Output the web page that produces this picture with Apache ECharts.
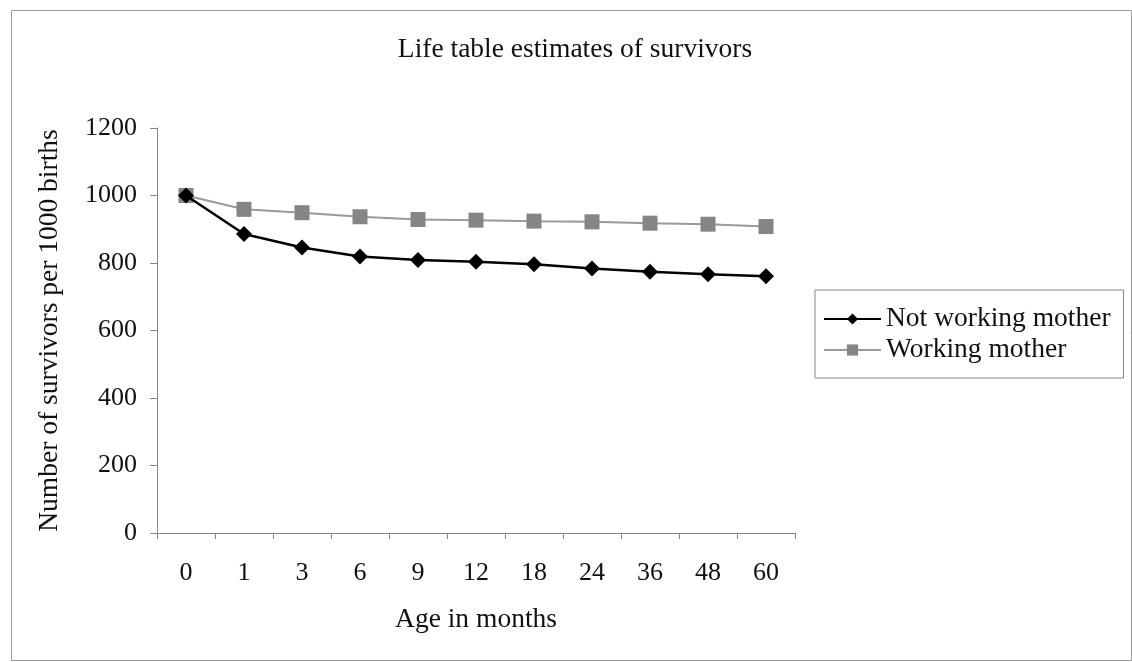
<!DOCTYPE html>
<html>
<head>
<meta charset="utf-8">
<script src="https://cdn.jsdelivr.net/npm/echarts@6/dist/echarts.min.js"></script>
<style>
html,body{margin:0;padding:0;background:#fff;}
#c{width:1132px;height:662px;}
</style>
</head>
<body>
<div id="c"></div>
<script>
const categories = ['0','1','3','6','9','12','18','24','36','48','60'];
const notWorking = [1000, 886, 846, 819, 809, 804, 796, 784, 774, 767, 761];
const working = [1000, 959, 949, 937, 929, 927, 924, 922, 918, 915, 908];
const yTicks = [0, 200, 400, 600, 800, 1000, 1200];

const FONT = '"Liberation Serif", "Times New Roman", serif';
const chart = echarts.init(document.getElementById('c'));
chart.setOption({
  backgroundColor: '#fff',
  animation: false,
  textStyle: { fontFamily: FONT, color: '#111' },
  graphic: [{
    type: 'rect', left: 9, top: 8,
    shape: { width: 1120, height: 650 },
    style: { fill: 'none', stroke: '#999', lineWidth: 1 }
  }],
  title: {
    text: 'Life table estimates of survivors',
    left: 570, top: 31, textAlign: 'center',
    textStyle: { fontFamily: FONT, fontSize: 27.5, fontWeight: 'normal', color: '#111' }
  },
  legend: {
    orient: 'vertical',
    left: 815, top: 290,
    padding: [15, 13, 14, 8],
    itemGap: 3,
    itemWidth: 57, itemHeight: 14,
    borderColor: '#888', borderWidth: 1,
    textStyle: { fontFamily: FONT, fontSize: 27.5, color: '#111' },
    data: ['Not working mother', 'Working mother']
  },
  grid: { left: 157, top: 128, width: 638, height: 405, containLabel: false },
  xAxis: {
    type: 'category',
    data: categories,
    boundaryGap: true,
    name: 'Age in months',
    nameLocation: 'middle',
    nameGap: 73,
    nameTextStyle: { fontFamily: FONT, fontSize: 27.5, color: '#111' },
    axisLine: { lineStyle: { color: '#888', width: 1 } },
    axisTick: { show: true, length: 6, lineStyle: { color: '#888' } },
    axisLabel: { fontFamily: FONT, fontSize: 26, color: '#111', margin: 27 },
    splitLine: { show: false }
  },
  yAxis: {
    type: 'value',
    min: yTicks[0], max: yTicks[yTicks.length - 1], interval: 200,
    name: 'Number of survivors per 1000 births',
    nameLocation: 'middle',
    nameGap: 93,
    nameTextStyle: { fontFamily: FONT, fontSize: 27.5, color: '#111' },
    axisLine: { show: true, lineStyle: { color: '#888', width: 1 } },
    axisTick: { show: true, length: 7, lineStyle: { color: '#888' } },
    axisLabel: { fontFamily: FONT, fontSize: 26, color: '#111', margin: 20, formatter: v => String(v) },
    splitLine: { show: false }
  },
  series: [
    {
      name: 'Not working mother',
      type: 'line',
      data: notWorking,
      symbol: 'diamond',
      symbolSize: 16,
      lineStyle: { color: '#000', width: 2.5 },
      itemStyle: { color: '#000' },
      z: 3
    },
    {
      name: 'Working mother',
      type: 'line',
      data: working,
      symbol: 'rect',
      symbolSize: 15,
      lineStyle: { color: '#9a9a9a', width: 2 },
      itemStyle: { color: '#858585' },
      z: 2
    }
  ]
});
</script>
</body>
</html>
